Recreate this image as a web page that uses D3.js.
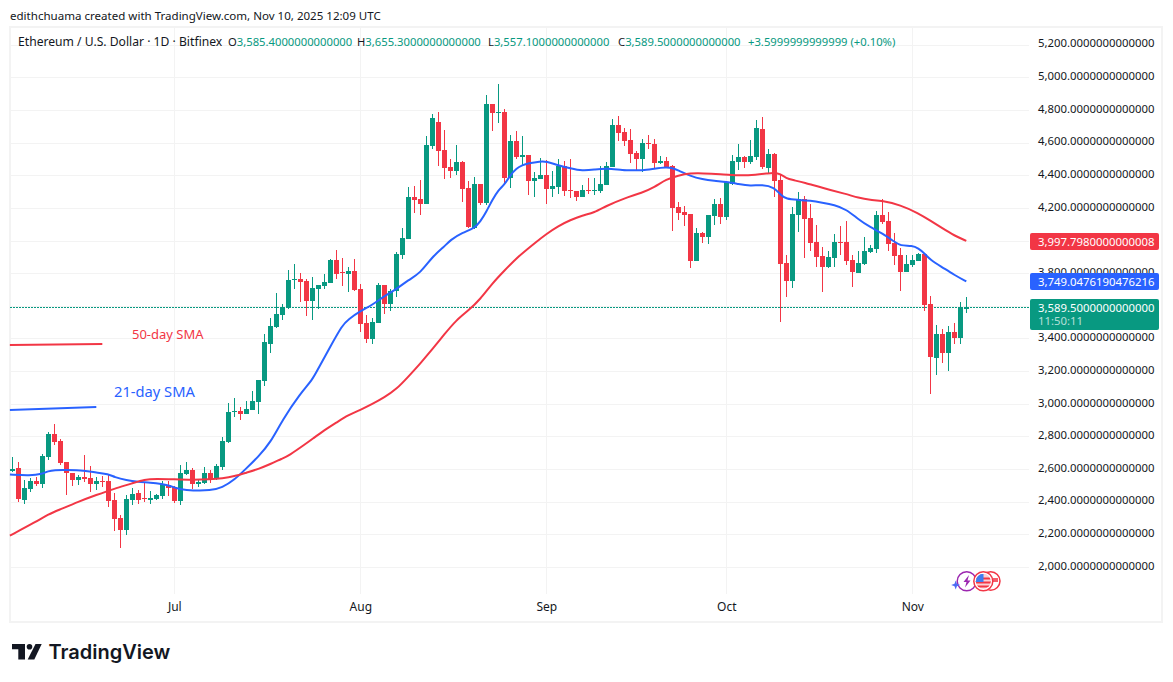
<!DOCTYPE html>
<html>
<head>
<meta charset="utf-8">
<script src="https://d3js.org/d3.v7.min.js"></script>
<style>
    html, body { margin: 0; padding: 0; background: #fff; overflow: hidden; }
    text { font-family: "Noto Sans", sans-serif; }
</style>
</head>
<body>
<div id="chart"></div>
<script>
// daily candles, 4 Jun to 10 Nov 2025
let firstDay = "2025-06-04";

let opens = [
    2588, 2606, 2410, 2478, 2527, 2508, 2674, 2815, 2772, 2643,
    2576, 2533, 2551, 2545, 2508, 2527, 2527, 2410, 2300, 2227,
    2410, 2453, 2423, 2410, 2417, 2435, 2502, 2490, 2404, 2570,
    2594, 2508, 2515, 2576, 2539, 2613, 2766, 2950, 2955, 2937,
    2962, 3011, 3139, 3366, 3470, 3544, 3586, 3760, 3764, 3752,
    3629, 3703, 3721, 3740, 3880, 3807, 3795, 3813, 3703, 3494,
    3397, 3494, 3727, 3611, 3691, 3911, 4009, 4266, 4254, 4223,
    4579, 4726, 4554, 4450, 4426, 4481, 4321, 4076, 4346, 4229,
    4836, 4781, 4787, 4383, 4609, 4511, 4524, 4364, 4377, 4401,
    4315, 4328, 4456, 4309, 4303, 4266, 4309, 4305, 4304, 4340,
    4451, 4708, 4665, 4616, 4536, 4500, 4598, 4591, 4475, 4487,
    4457, 4205, 4175, 4163, 3875, 4046, 4022, 4150, 4224, 4144,
    4346, 4481, 4512, 4481, 4512, 4683, 4444, 4530, 4371, 3863,
    3752, 4157, 4255, 4138, 3991, 3905, 3838, 3893, 3991, 3991,
    3881, 3801, 3856, 3930, 3948, 4157, 4120, 3985, 3912, 3807,
    3850, 3875, 3918, 3611, 3281, 3428, 3311, 3440, 3403, 3585.4
];
let highs = [
    2676, 2643, 2533, 2545, 2551, 2692, 2827, 2876, 2784, 2643,
    2576, 2564, 2686, 2619, 2551, 2557, 2570, 2453, 2318, 2441,
    2484, 2472, 2521, 2466, 2447, 2527, 2527, 2496, 2625, 2643,
    2606, 2539, 2612, 2594, 2631, 2796, 3005, 3035, 2978, 3017,
    3078, 3145, 3427, 3525, 3678, 3611, 3819, 3856, 3801, 3764,
    3776, 3727, 3795, 3887, 3942, 3893, 3838, 3887, 3733, 3544,
    3525, 3740, 3727, 3703, 3929, 4076, 4328, 4334, 4370, 4640,
    4775, 4787, 4677, 4499, 4585, 4487, 4364, 4389, 4346, 4891,
    4836, 4959, 4805, 4646, 4671, 4640, 4524, 4419, 4505, 4493,
    4425, 4499, 4487, 4499, 4303, 4340, 4383, 4383, 4457, 4481,
    4745, 4763, 4689, 4683, 4549, 4622, 4647, 4622, 4518, 4512,
    4463, 4236, 4212, 4163, 4077, 4052, 4157, 4255, 4261, 4359,
    4524, 4591, 4518, 4616, 4738, 4757, 4561, 4536, 4402, 3912,
    4206, 4297, 4273, 4224, 4095, 3961, 3936, 4040, 4089, 4120,
    3912, 3936, 4022, 3973, 4181, 4255, 4175, 4046, 3954, 3912,
    3912, 3924, 3918, 3660, 3483, 3458, 3477, 3495, 3624, 3655.3
];
let lows = [
    2584, 2400, 2386, 2461, 2496, 2484, 2655, 2747, 2625, 2441,
    2496, 2502, 2521, 2459, 2472, 2490, 2367, 2220, 2116, 2196,
    2380, 2386, 2398, 2386, 2410, 2417, 2435, 2392, 2380, 2564,
    2478, 2490, 2508, 2515, 2533, 2594, 2760, 2921, 2900, 2937,
    2962, 2937, 3109, 3311, 3464, 3513, 3580, 3703, 3623, 3537,
    3513, 3580, 3703, 3740, 3764, 3721, 3684, 3690, 3439, 3372,
    3366, 3494, 3550, 3568, 3654, 3887, 4009, 4168, 4156, 4223,
    4560, 4456, 4377, 4383, 4401, 4236, 4076, 4070, 4217, 4217,
    4671, 4720, 4346, 4321, 4499, 4456, 4279, 4266, 4377, 4223,
    4266, 4285, 4272, 4260, 4242, 4266, 4285, 4279, 4291, 4340,
    4451, 4610, 4579, 4475, 4432, 4420, 4561, 4444, 4469, 4444,
    4058, 4126, 4089, 3832, 3875, 3985, 3979, 4095, 4101, 4126,
    4340, 4432, 4444, 4469, 4493, 4438, 4414, 4267, 3501, 3654,
    3709, 4052, 3893, 3936, 3838, 3685, 3832, 3838, 3912, 3850,
    3716, 3801, 3850, 3924, 3924, 4101, 3936, 3850, 3691, 3807,
    3838, 3875, 3569, 3060, 3176, 3250, 3201, 3366, 3366, 3557.1
];
let closes = [
    2600, 2416, 2484, 2527, 2508, 2680, 2815, 2766, 2637, 2576,
    2533, 2551, 2539, 2508, 2527, 2523, 2404, 2294, 2227, 2416,
    2447, 2410, 2417, 2423, 2441, 2508, 2484, 2404, 2576, 2594,
    2508, 2521, 2576, 2533, 2619, 2772, 2949, 2955, 2937, 2968,
    3017, 3145, 3378, 3476, 3550, 3593, 3758, 3764, 3746, 3629,
    3709, 3727, 3746, 3880, 3795, 3803, 3813, 3697, 3488, 3397,
    3501, 3727, 3611, 3691, 3917, 4015, 4266, 4248, 4223, 4585,
    4750, 4548, 4444, 4426, 4481, 4315, 4082, 4346, 4229, 4836,
    4781, 4785, 4383, 4609, 4511, 4524, 4364, 4383, 4401, 4315,
    4334, 4456, 4303, 4305, 4266, 4309, 4305, 4310, 4346, 4457,
    4708, 4659, 4610, 4530, 4500, 4598, 4594, 4475, 4487, 4451,
    4199, 4169, 4157, 3875, 4046, 4022, 4157, 4224, 4144, 4359,
    4487, 4512, 4481, 4518, 4689, 4451, 4530, 4365, 3856, 3752,
    4163, 4255, 4132, 3985, 3899, 3838, 3899, 3991, 3987, 3875,
    3807, 3863, 3936, 3954, 4157, 4114, 3979, 3905, 3807, 3856,
    3881, 3918, 3605, 3287, 3428, 3311, 3440, 3403, 3587, 3589.5
];

// moving averages, read at these day numbers (0 = first candle)
let sma21Days = [-0.4, 3, 5, 6, 7, 9, 12, 14, 16, 17, 19, 21, 23, 25, 26, 27, 28, 30, 33, 35, 37, 39, 41, 43, 45, 48, 50, 51, 53, 55, 56, 58, 60, 62, 64, 66, 68, 70, 72, 73, 75, 77, 78, 79, 80, 81, 82, 83, 84, 85, 86, 88, 89, 91, 93, 95, 97, 99, 102, 103, 105, 107, 109, 110, 111, 113, 115, 117, 119, 121, 123, 125, 127, 128, 129, 131, 133, 135, 137, 139, 141, 143, 145, 147, 148, 150, 151, 152, 153, 155, 157, 159];
let sma21Values = [2566, 2559, 2570, 2588, 2594, 2594, 2592, 2578, 2570, 2551, 2531, 2521, 2517, 2508, 2500, 2488, 2476, 2468, 2468, 2486, 2533, 2604, 2676, 2760, 2900, 3064, 3145, 3217, 3350, 3482, 3517, 3568, 3605, 3660, 3701, 3758, 3799, 3901, 3962, 4003, 4048, 4074, 4115, 4176, 4248, 4309, 4340, 4401, 4442, 4462, 4473, 4485, 4485, 4460, 4442, 4426, 4434, 4444, 4428, 4432, 4428, 4440, 4449, 4444, 4430, 4395, 4375, 4365, 4359, 4346, 4334, 4342, 4326, 4280, 4253, 4249, 4244, 4232, 4218, 4191, 4130, 4081, 4044, 3993, 3967, 3969, 3952, 3922, 3881, 3836, 3789, 3749.05];

let sma50Days = [-0.4, 4, 6, 8, 11, 14, 17, 20, 22, 24, 27, 30, 33, 35, 37, 39, 41, 43, 45, 46, 49, 50, 52, 54, 56, 58, 60, 62, 64, 66, 68, 70, 72, 74, 76, 78, 80, 82, 84, 86, 87, 89, 91, 93, 95, 97, 99, 102, 105, 107, 109, 111, 113, 115, 118, 121, 124, 126, 127, 128, 129, 130, 132, 135, 139, 141, 143, 145, 148, 151, 153, 155, 157, 159];
let sma50Values = [2192, 2278, 2323, 2353, 2400, 2441, 2480, 2512, 2537, 2541, 2537, 2533, 2537, 2543, 2555, 2578, 2600, 2630, 2665, 2680, 2757, 2784, 2839, 2884, 2931, 2962, 2998, 3039, 3088, 3166, 3247, 3333, 3425, 3513, 3570, 3640, 3738, 3815, 3891, 3952, 3982, 4040, 4089, 4125, 4154, 4170, 4212, 4259, 4293, 4326, 4375, 4399, 4412, 4412, 4406, 4397, 4402, 4412, 4416, 4408, 4381, 4371, 4355, 4322, 4285, 4261, 4248, 4244, 4218, 4167, 4122, 4075, 4030, 3997.8];

// hand drawn trend lines next to the notes, [day, price]
let note50Line = [[-0.4, 3360], [15, 3366]];
let note21Line = [[-0.4, 2962], [14, 2980]];

let priceTicks = d3.range(2000, 5201, 200);
let monthTicks = ["2025-07-01", "2025-08-01", "2025-09-01", "2025-10-01", "2025-11-01"];

let green = "#089981", red = "#f23645", blue = "#2962ff", ink = "#131722";

let svg = d3.select("#chart").append("svg")
    .attr("width", 1173)
    .attr("height", 682)
    .style("display", "block");

let panel = {left: 10, right: 1162, top: 27, bottom: 622, plotRight: 1029, plotBottom: 594};

let day0 = new Date(firstDay + "T00:00:00Z");
let dayDate = function (k) {
    return new Date(day0.getTime() + k * 86400000);
};

let x = d3.scaleUtc()
    .domain([day0, dayDate(159)])
    .range([12.3, 966.3]);

let y = d3.scaleLinear()
    .domain([2000, 5200])
    .range([567, 44.6]);

// panel frame
svg.append("rect")
    .attr("x", panel.left)
    .attr("y", panel.top)
    .attr("width", panel.right - panel.left)
    .attr("height", panel.bottom - panel.top)
    .attr("fill", "none")
    .attr("stroke", "#f3f3f3")
    .attr("stroke-width", 2);

// grid
svg.append("g").selectAll("line")
    .data(priceTicks)
    .join("line")
    .attr("x1", panel.left)
    .attr("x2", panel.plotRight)
    .attr("y1", d => Math.round(y(d)) + 0.5)
    .attr("y2", d => Math.round(y(d)) + 0.5)
    .attr("stroke", "#f3f3f3");

let monthDates = monthTicks.map(d => new Date(d + "T00:00:00Z"));

svg.append("g").selectAll("line")
    .data(monthDates)
    .join("line")
    .attr("x1", d => Math.round(x(d)) + 0.5)
    .attr("x2", d => Math.round(x(d)) + 0.5)
    .attr("y1", panel.top)
    .attr("y2", panel.plotBottom)
    .attr("stroke", "#f3f3f3");

// axes
let yAxis = svg.append("g")
    .attr("transform", "translate(1038,0)")
    .call(d3.axisRight(y).tickValues(priceTicks).tickSize(0).tickPadding(0).tickFormat(d3.format(",.13f")));
yAxis.select(".domain").remove();
yAxis.selectAll("text")
    .attr("fill", ink)
    .attr("dy", "0.2em")
    .style("font-size", "11.35px");

let xAxis = svg.append("g")
    .attr("transform", "translate(0,602)")
    .call(d3.axisBottom(x).tickValues(monthDates).tickSize(0).tickPadding(0).tickFormat(d3.utcFormat("%b")));
xAxis.select(".domain").remove();
xAxis.selectAll("text")
    .attr("fill", ink)
    .style("font-size", "12px");

// last price line
svg.append("line")
    .attr("x1", panel.left)
    .attr("x2", 1030)
    .attr("y1", Math.floor(y(3589.5)) + 0.5)
    .attr("y2", Math.floor(y(3589.5)) + 0.5)
    .attr("stroke", green)
    .attr("stroke-dasharray", "2 1")
    .attr("shape-rendering", "crispEdges");

// candles
let candles = opens.map(function (o, i) {
    return {date: dayDate(i), open: o, high: highs[i], low: lows[i], close: closes[i]};
});
let candleColor = d => d.close >= d.open ? green : red;

let candle = svg.append("g").selectAll("g")
    .data(candles)
    .join("g");

candle.append("line")
    .attr("x1", d => x(d.date))
    .attr("x2", d => x(d.date))
    .attr("y1", d => y(d.high))
    .attr("y2", d => y(d.low))
    .attr("stroke", candleColor)
    .attr("shape-rendering", "crispEdges");

candle.append("rect")
    .attr("x", d => x(d.date) - 2.5)
    .attr("width", 5)
    .attr("y", d => y(Math.max(d.open, d.close)))
    .attr("height", d => Math.max(1, Math.abs(y(d.open) - y(d.close))))
    .attr("fill", candleColor)
    .attr("shape-rendering", "crispEdges");

// moving averages
let smaLine = d3.line()
    .x(d => x(dayDate(d[0])))
    .y(d => y(d[1]))
    .curve(d3.curveBasis);

svg.append("path")
    .attr("d", smaLine(d3.zip(sma21Days, sma21Values)))
    .attr("fill", "none")
    .attr("stroke", blue)
    .attr("stroke-width", 2);
svg.append("path")
    .attr("d", smaLine(d3.zip(sma50Days, sma50Values)))
    .attr("fill", "none")
    .attr("stroke", red)
    .attr("stroke-width", 2);

// notes
svg.append("path")
    .attr("d", smaLine(note50Line))
    .attr("fill", "none")
    .attr("stroke", red)
    .attr("stroke-width", 2);
svg.append("path")
    .attr("d", smaLine(note21Line))
    .attr("fill", "none")
    .attr("stroke", blue)
    .attr("stroke-width", 2);
svg.append("text")
    .attr("x", 132).attr("y", 339)
    .attr("fill", red)
    .style("font-size", "13px")
    .text("50-day SMA");
svg.append("text")
    .attr("x", 114).attr("y", 397)
    .attr("fill", blue)
    .style("font-size", "14.7px")
    .text("21-day SMA");

// price tags on the axis
let tags = [
    {top: 233, h: 17, color: red, label: "3,997.7980000000008"},
    {top: 273, h: 17, color: blue, label: "3,749.0476190476216"},
    {top: 299, h: 31, color: green, label: "3,589.5000000000000", sub: "11:50:11"}
];
tags.forEach(function (t) {
    svg.append("rect")
        .attr("x", 1030).attr("y", t.top)
        .attr("width", 129).attr("height", t.h)
        .attr("rx", 2)
        .attr("fill", t.color);
    svg.append("text")
        .attr("x", 1038).attr("y", t.top + 12.5)
        .attr("fill", "#fff")
        .style("font-size", "11.35px")
        .text(t.label);
    if (t.sub) {
        svg.append("text")
            .attr("x", 1038).attr("y", t.top + 26)
            .attr("fill", "#fff")
            .attr("fill-opacity", 0.7)
            .style("font-size", "11.35px")
            .text(t.sub);
    }
});

// header
svg.append("text")
    .attr("x", 10).attr("y", 20)
    .attr("fill", ink)
    .style("font-size", "11.55px")
    .text("edithchuama created with TradingView.com, Nov 10, 2025 12:09 UTC");

let legendY = 46;
svg.append("text")
    .attr("x", 18).attr("y", legendY)
    .attr("fill", ink)
    .style("font-size", "12.15px")
    .text("Ethereum / U.S. Dollar · 1D · Bitfinex");

let legendParts = [
    {x: 228, key: "O", value: "3,585.4000000000000"},
    {x: 357, key: "H", value: "3,655.3000000000000"},
    {x: 488, key: "L", value: "3,557.1000000000000"},
    {x: 618, key: "C", value: "3,589.5000000000000"},
    {x: 748, key: "", value: "+3.5999999999999 (+0.10%)"}
];
legendParts.forEach(function (p) {
    let t = svg.append("text")
        .attr("x", p.x).attr("y", legendY)
        .style("font-size", "11.25px");
    t.append("tspan").attr("fill", ink).text(p.key);
    t.append("tspan").attr("fill", green).text(p.value);
});

// little event icons at the bottom
let icons = svg.append("g");
icons.append("circle")
    .attr("cx", 966.7).attr("cy", 581.3).attr("r", 9.5)
    .attr("fill", "#fff").attr("stroke", "#9c27b0").attr("stroke-width", 1.5);
icons.append("path")
    .attr("d", "M969 575 L963.5 582 L966.5 582 L965 587.5 L970.5 580.5 L967.5 580.5 Z")
    .attr("fill", "#9c27b0");
icons.append("path")
    .attr("d", "M955.7 580.5 L956.9 583.8 L960.2 585 L956.9 586.2 L955.7 589.5 L954.5 586.2 L951.2 585 L954.5 583.8 Z")
    .attr("fill", "#4d6cf5");

icons.append("circle")
    .attr("cx", 990.7).attr("cy", 581).attr("r", 9.3)
    .attr("fill", "#fff").attr("stroke", red).attr("stroke-width", 1.5);
icons.append("rect")
    .attr("x", 993).attr("y", 578).attr("width", 5).attr("height", 4)
    .attr("fill", red).attr("fill-opacity", 0.8);
icons.append("circle")
    .attr("cx", 983.3).attr("cy", 581.3).attr("r", 9.5)
    .attr("fill", "#fff").attr("stroke", red).attr("stroke-width", 1.5);
icons.append("clipPath").attr("id", "flagClip")
    .append("circle").attr("cx", 983.3).attr("cy", 581.3).attr("r", 7.5);
let flag = icons.append("g").attr("clip-path", "url(#flagClip)");
flag.append("rect")
    .attr("x", 975).attr("y", 574).attr("width", 17).attr("height", 15)
    .attr("fill", "#fbd0d4");
[577.5, 581.5, 585.5].forEach(function (s) {
    flag.append("rect")
        .attr("x", 975).attr("y", s).attr("width", 17).attr("height", 2)
        .attr("fill", red);
});
flag.append("rect")
    .attr("x", 975).attr("y", 574).attr("width", 8.5).attr("height", 8)
    .attr("fill", "#3f7df0");

// logo
svg.append("path")
    .attr("d", "M12 644 H25 V659.5 H18.3 V649.3 H12 Z")
    .attr("fill", ink);
svg.append("circle")
    .attr("cx", 29.5).attr("cy", 646.8).attr("r", 2.8)
    .attr("fill", ink);
svg.append("path")
    .attr("d", "M35.5 644 H41.7 L34.3 659.5 H27.7 Z")
    .attr("fill", ink);
svg.append("text")
    .attr("x", 48.5).attr("y", 659)
    .attr("fill", ink)
    .style("font-family", "Inter, sans-serif")
    .style("font-size", "20px")
    .style("font-weight", 600)
    .text("TradingView");
</script>
</body>
</html>
